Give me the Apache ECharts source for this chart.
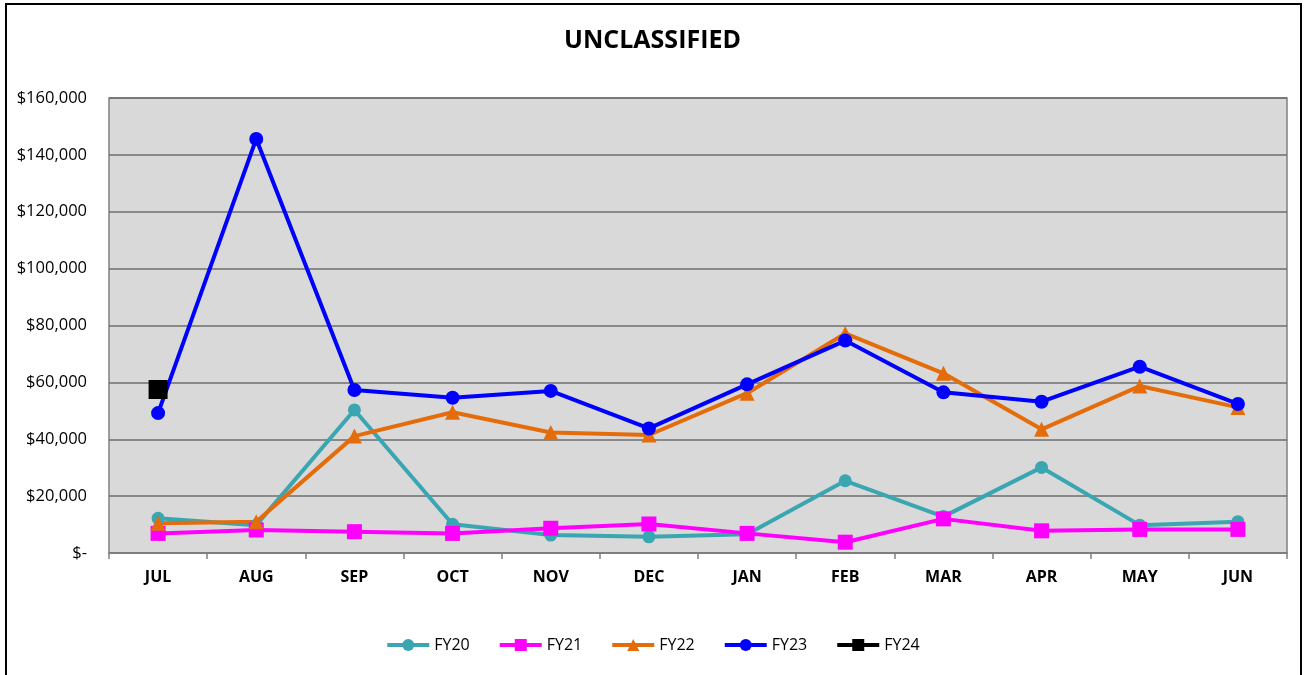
<!DOCTYPE html>
<html>
<head>
<meta charset="utf-8">
<script src="https://cdn.jsdelivr.net/npm/echarts@6/dist/echarts.min.js"></script>
<style>
  html, body { margin: 0; padding: 0; background: #fff; }
  #chart { width: 1305px; height: 675px; }
  #frame { position: absolute; left: 5px; top: 3px; width: 1293px; height: 690px; border: 2px solid #000; pointer-events: none; }
</style>
</head>
<body>
<div id="chart"></div>
<div id="frame"></div>
<script>
const months = ['JUL', 'AUG', 'SEP', 'OCT', 'NOV', 'DEC', 'JAN', 'FEB', 'MAR', 'APR', 'MAY', 'JUN'];
const fy20 = [12200, 9800, 50300, 10100, 6300, 5700, 6600, 25400, 12800, 30100, 9800, 11000];
const fy21 = [6900, 8100, 7500, 6900, 8700, 10200, 6900, 3800, 12000, 7800, 8300, 8300];
const fy22 = [10500, 11000, 41100, 49500, 42400, 41500, 56200, 77200, 63200, 43500, 58700, 51200];
const fy23 = [49200, 145600, 57300, 54600, 57000, 43800, 59300, 74700, 56500, 53200, 65500, 52400];
const fy24 = [57500, null, null, null, null, null, null, null, null, null, null, null];

const font = '"Open Sans", "Noto Sans", sans-serif';

const chart = echarts.init(document.getElementById('chart'), null, { renderer: 'canvas' });

function line(name, data, color, symbol, size, width) {
  return {
    name: name,
    type: 'line',
    data: data,
    symbol: symbol,
    symbolSize: size,
    showAllSymbol: true,
    connectNulls: false,
    lineStyle: { color: color, width: width },
    itemStyle: { color: color },
    emphasis: { disabled: true },
    animation: false
  };
}

chart.setOption({
  backgroundColor: '#fff',
  title: {
    text: 'UNCLASSIFIED',
    left: 'center',
    top: 23,
    textStyle: { fontFamily: font, fontWeight: 'bold', fontSize: 25, color: '#000' }
  },
  legend: {
    bottom: 17,
    left: 'center',
    itemWidth: 42,
    itemHeight: 15,
    itemGap: 28,
    lineStyle: { width: 4 },
    textStyle: { fontFamily: font, fontSize: 16, color: '#000' },
    data: ['FY20', 'FY21', 'FY22', 'FY23', 'FY24']
  },
  grid: {
    left: 109, right: 18, top: 98, bottom: 122,
    show: true,
    backgroundColor: '#d9d9d9',
    borderColor: '#808080',
    borderWidth: 1.5
  },
  xAxis: {
    type: 'category',
    data: months,
    boundaryGap: true,
    axisLine: { lineStyle: { color: '#808080', width: 1.5 } },
    axisTick: { show: true, length: 6, lineStyle: { color: '#808080', width: 1.5 } },
    axisLabel: { fontFamily: font, fontWeight: 'bold', fontSize: 16, color: '#000', margin: 16 }
  },
  yAxis: {
    type: 'value',
    min: 0,
    max: 160000,
    interval: 20000,
    axisLine: { show: false },
    axisTick: { show: false },
    splitLine: { lineStyle: { color: '#6e6e6e', width: 1.5 } },
    axisLabel: {
      fontFamily: font, fontSize: 16.5, color: '#000', margin: 22,
      formatter: v => v === 0 ? '$-' : '$' + v.toLocaleString('en-US')
    }
  },
  series: [
    line('FY20', fy20, '#3aa6b1', 'circle', 13, 4),
    line('FY21', fy21, '#ff00ff', 'rect', 15, 4),
    line('FY22', fy22, '#e46c0a', 'triangle', 15, 4),
    line('FY23', fy23, '#0000ff', 'circle', 14, 4),
    line('FY24', fy24, '#000000', 'rect', 19, 4)
  ]
});
</script>
</body>
</html>
